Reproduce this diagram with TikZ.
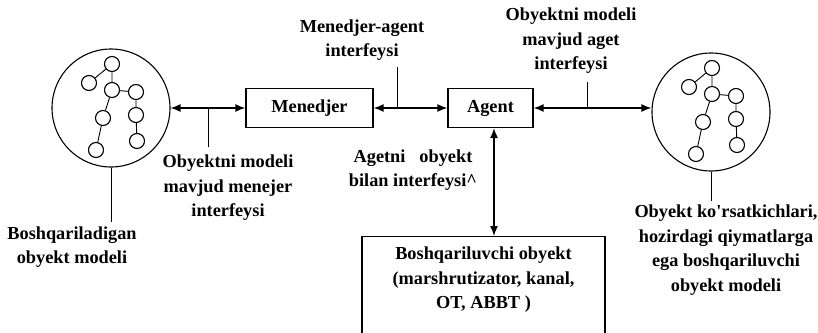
\documentclass[tikz,border=0pt]{standalone}
\usepackage{fontspec}
\setmainfont{Liberation Serif}
\usepackage{tikz}
\usetikzlibrary{arrows.meta,positioning}
\tikzset{
  blk/.style={draw,line width=1.2pt,minimum height=39pt,inner sep=0pt},
  lbl/.style={align=center,inner sep=0pt},
  link/.style={{Latex[length=10pt,width=8pt]}-{Latex[length=10pt,width=8pt]},line width=1.4pt},
  tick/.style={line width=0.9pt},
  model/.style={draw,circle,line width=1.1pt,minimum size=118pt,inner sep=0pt},
  leaf/.style={draw,circle,fill=white,line width=1.1pt,minimum size=15pt,inner sep=0pt},
  objtree/.pic={
    \node[leaf] (-a) at (1,44)   {};
    \node[leaf] (-b) at (-22,25) {};
    \node[leaf] (-c) at (1,18)   {};
    \node[leaf] (-d) at (25,16)  {};
    \node[leaf] (-e) at (-8,-10) {};
    \node[leaf] (-f) at (25,-7)  {};
    \node[leaf] (-g) at (-15,-42){};
    \node[leaf] (-h) at (26,-33) {};
    \draw[tick] (-a) -- (-b) (-a) -- (-c) (-c) -- (-d) (-c) -- (-e)
                (-e) -- (-g) (-d) -- (-f) (-f) -- (-h);
  },
}

\begin{document}
\begin{tikzpicture}[x=1pt,y=1pt,font=\fontsize{18.3}{24.5}\selectfont\bfseries]
  \useasboundingbox (0,0) rectangle (818,-332);
  \clip (0,0) rectangle (818,-332);

  % --- modellar -----------------------------------------------------------
  \node[model] (lm) at (111,-108) {};
  \pic (lt) at (lm) {objtree};
  \node[model] (rm) at (711,-112) {};
  \pic (rt) at (rm) {objtree};

  % --- bloklar ------------------------------------------------------------
  \node[blk,minimum width=127pt] (men) at (309.5,-108) {Menedjer};
  \node[blk,minimum width=85pt]  (ag)  at (490.5,-108) {Agent};
  \node[blk,minimum width=243pt,minimum height=130pt,anchor=north] (obj) at (483.5,-236) {};
  \node[lbl] (objtxt) at (483.5,-280)
        {Boshqariluvchi obyekt\\(marshrutizator, kanal,\\OT, ABBT )};

  % --- yozuvlar -----------------------------------------------------------
  \node[lbl] (lml) at (228,-188) {Obyektni modeli\\mavjud menejer\\interfeysi};
  \node[lbl] (mal) at (362,-40)  {Menedjer-agent\\interfeysi};
  \node[lbl] (ral) at (571,-41)  {Obyektni modeli\\mavjud aget\\interfeysi};
  \node[lbl] (agl) at (413,-170) {Agetni\hspace{14pt}obyekt\\bilan interfeysi\textasciicircum};
  \node[lbl] (lbm) at (72,-247)  {Boshqariladigan\\obyekt modeli};
  \node[lbl] (rbm) at (726,-250)
        {Obyekt ko\textquotesingle rsatkichlari,\\hozirdagi qiymatlarga\\ega boshqariluvchi\\obyekt modeli};

  % --- bog'lanishlar ------------------------------------------------------
  \draw[link] (lm.east) -- coordinate[pos=0.5] (t1) (men.west);
  \draw[link] (men.east) -- coordinate[pos=0.32] (t2) (ag.west);
  \draw[link] (ag.east) -- coordinate[pos=0.46] (t3) (ag.east -| rm.west);
  \draw[link] ([xshift=3.5pt]ag.south) -- ([xshift=3.5pt]ag.south |- obj.north);

  % ko'rsatkich chiziqlari
  \draw[tick] (t1) -- ([yshift=8pt]t1 |- lml.north);
  \draw[tick] (t2) -- ([yshift=-6pt]t2 |- mal.south);
  \draw[tick] (t3) -- ([yshift=-8pt]t3 |- ral.south);
  \draw[tick] (lm.south) -- ([yshift=4pt]lm.south |- lbm.north);
  \draw[tick] (rm.south) -- ([yshift=4pt]rm.south |- rbm.north);
\end{tikzpicture}
\end{document}
